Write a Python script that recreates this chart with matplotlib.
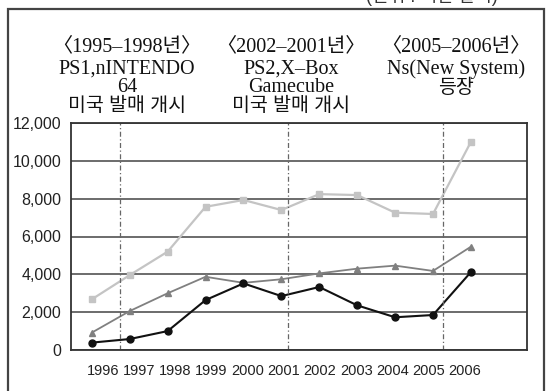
import numpy as np
import matplotlib.pyplot as plt
from matplotlib.patches import Rectangle

# 연도별 매출 (단위: 백만 달러)
years = ['1996', '1997', '1998', '1999', '2000', '2001',
         '2002', '2003', '2004', '2005', '2006']
light_series = [2680, 3960, 5200, 7570, 7930, 7400, 8240, 8190, 7260, 7190, 11000]
mid_series = [920, 2060, 3000, 3870, 3550, 3740, 4050, 4300, 4460, 4180, 5460]
dark_series = [390, 580, 1000, 2640, 3520, 2850, 3330, 2360, 1730, 1850, 4120]
yticks = [0, 2000, 4000, 6000, 8000, 10000, 12000]

blocks = [
    ['〈1995–1998년〉', 'PS1,nINTENDO', '64', '미국 발매 개시'],
    ['〈2002–2001년〉', 'PS2,X–Box', 'Gamecube', '미국 발매 개시'],
    ['〈2005–2006년〉', 'Ns(New System)', '등장'],
]
event_x = [0.74, 5.17, 9.26]

serif = ['Liberation Serif', 'Noto Sans CJK KR']
sans = ['Liberation Sans', 'Noto Sans CJK KR']

W, H = 547, 391
fig = plt.figure(figsize=(W / 100, H / 100), dpi=100)

def fx(px):
    return px / W

def fy(py):
    return 1 - py / H

# outer frame and unit caption (cut off at the top edge)
fig.patches.append(Rectangle((fx(8), fy(420)), fx(536), (420 - 9) / H,
                             transform=fig.transFigure, fill=False,
                             edgecolor='#444444', lw=1.6))
fig.text(fx(432), fy(-4), '(단위 : 백만 달러)', ha='center', va='center',
         fontsize=13, family=sans, color='#333333')

ax = fig.add_axes([fx(71), fy(350), fx(456), (350 - 123) / H])
x = np.arange(len(years))

ax.plot(x, light_series, color='#c4c4c4', lw=1.6, marker='s', ms=4.5)
ax.plot(x, mid_series, color='#808080', lw=1.3, marker='^', ms=4.5)
ax.plot(x, dark_series, color='#111111', lw=1.5, marker='o', ms=5)

for ex in event_x:
    ax.axvline(ex, color='#666666', lw=0.9, ls=(0, (4, 2, 1, 2)))

ax.set_ylim(0, 12000)
ax.set_xlim(-0.55, 11.48)
ax.set_yticks(yticks)
ax.set_yticklabels([f'{v:,}' for v in yticks], family='Liberation Sans',
                   fontsize=11.5, color='#222222')
ax.set_xticks(0.29 + 0.955 * x)
ax.set_xticklabels(years, family='Liberation Sans', fontsize=10.5, color='#222222')
ax.tick_params(length=0, pad=7)
ax.tick_params(axis='x', pad=10)
ax.grid(axis='y', color='#444444', lw=1.1)
ax.set_axisbelow(True)
for s in ax.spines.values():
    s.set_color('#333333')
    s.set_linewidth(1.3)

# event annotations above the plot
centers = [127, 291, 456]
line_y = [47, 69, 88, 106]
for cx, lines in zip(centers, blocks):
    for i, t in enumerate(lines):
        korean = t in ('미국 발매 개시', '등장')
        fig.text(fx(cx), fy(line_y[i]), t, ha='center', va='center',
                 fontsize=14 if korean else 14.5,
                 family=sans if korean else serif, color='#111111')

fig.savefig('out.png', dpi=100)
